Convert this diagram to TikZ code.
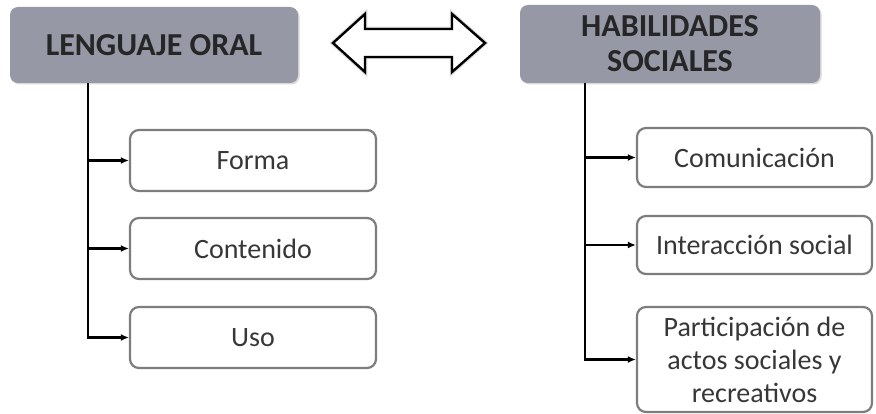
\documentclass[tikz,border=0pt]{standalone}
\usepackage{fontspec}
\setmainfont{Carlito}
\usepackage{tikz}
\usetikzlibrary{arrows.meta,shadows}
\definecolor{headgray}{RGB}{150,152,166}
\definecolor{boxline}{RGB}{125,125,125}
\definecolor{txtgray}{RGB}{55,55,55}
\tikzset{headbox/.style={draw=none, fill=headgray, rounded corners=8pt,
           drop shadow={shadow xshift=1.5pt, shadow yshift=-1.5pt, opacity=0.3},
           font=\fontsize{32}{35}\selectfont\bfseries, text=black!85,
           align=center, inner sep=0pt},
         itembox/.style={draw=boxline, line width=2.2pt, fill=white,
           rounded corners=9pt, font=\fontsize{28}{33}\selectfont,
           text=txtgray, align=center, inner sep=0pt},
         branch/.style={line width=2.6pt, -{Latex[length=8pt,width=7pt]}}}

\begin{document}
\begin{tikzpicture}[x=1pt, y=-1pt]
  \useasboundingbox (0,0) rectangle (876,414);

  \node[headbox, minimum width=288, minimum height=76] (A) at (154,45) {LENGUAJE ORAL};
  \node[headbox, minimum width=300, minimum height=78] (H) at (670,44) {HABILIDADES\\SOCIALES};

  % doble flecha entre los dos bloques
  \draw[line width=4.5pt, black!15, line join=miter]
    (333,43) -- (365,14) -- (365,29) -- (452,29) -- (452,14) -- (485,43)
    -- (452,72) -- (452,57) -- (365,57) -- (365,72) -- cycle;
  \draw[line width=2.4pt, fill=white, line join=miter]
    (333,43) -- (365,14) -- (365,29) -- (452,29) -- (452,14) -- (485,43)
    -- (452,72) -- (452,57) -- (365,57) -- (365,72) -- cycle;

  \node[itembox, minimum width=246, minimum height=61] (B) at (253,160.5) {Forma};
  \node[itembox, minimum width=246, minimum height=61] (C) at (253,248.5) {Contenido};
  \node[itembox, minimum width=246, minimum height=61] (D) at (253,337.5) {Uso};

  \node[itembox, minimum width=235, minimum height=59] (I) at (754.5,157.5) {Comunicación};
  \node[itembox, minimum width=235, minimum height=58] (J) at (754.5,245) {Interacción social};
  \node[itembox, minimum width=235, minimum height=105] (K) at (754.5,359.5)
    {Participación de\\actos sociales y\\recreativos};

  \coordinate (t1) at (88,83);
  \coordinate (t2) at (585,83);

  \draw[branch] (t1) |- (D.west);
  \draw[branch] (t1 |- B.west) -- (B.west);
  \draw[branch] (t1 |- C.west) -- (C.west);

  \draw[branch] (t2) |- (K.west);
  \draw[branch] (t2 |- I.west) -- (I.west);
  \draw[branch] (t2 |- J.west) -- (J.west);

\end{tikzpicture}
\end{document}
